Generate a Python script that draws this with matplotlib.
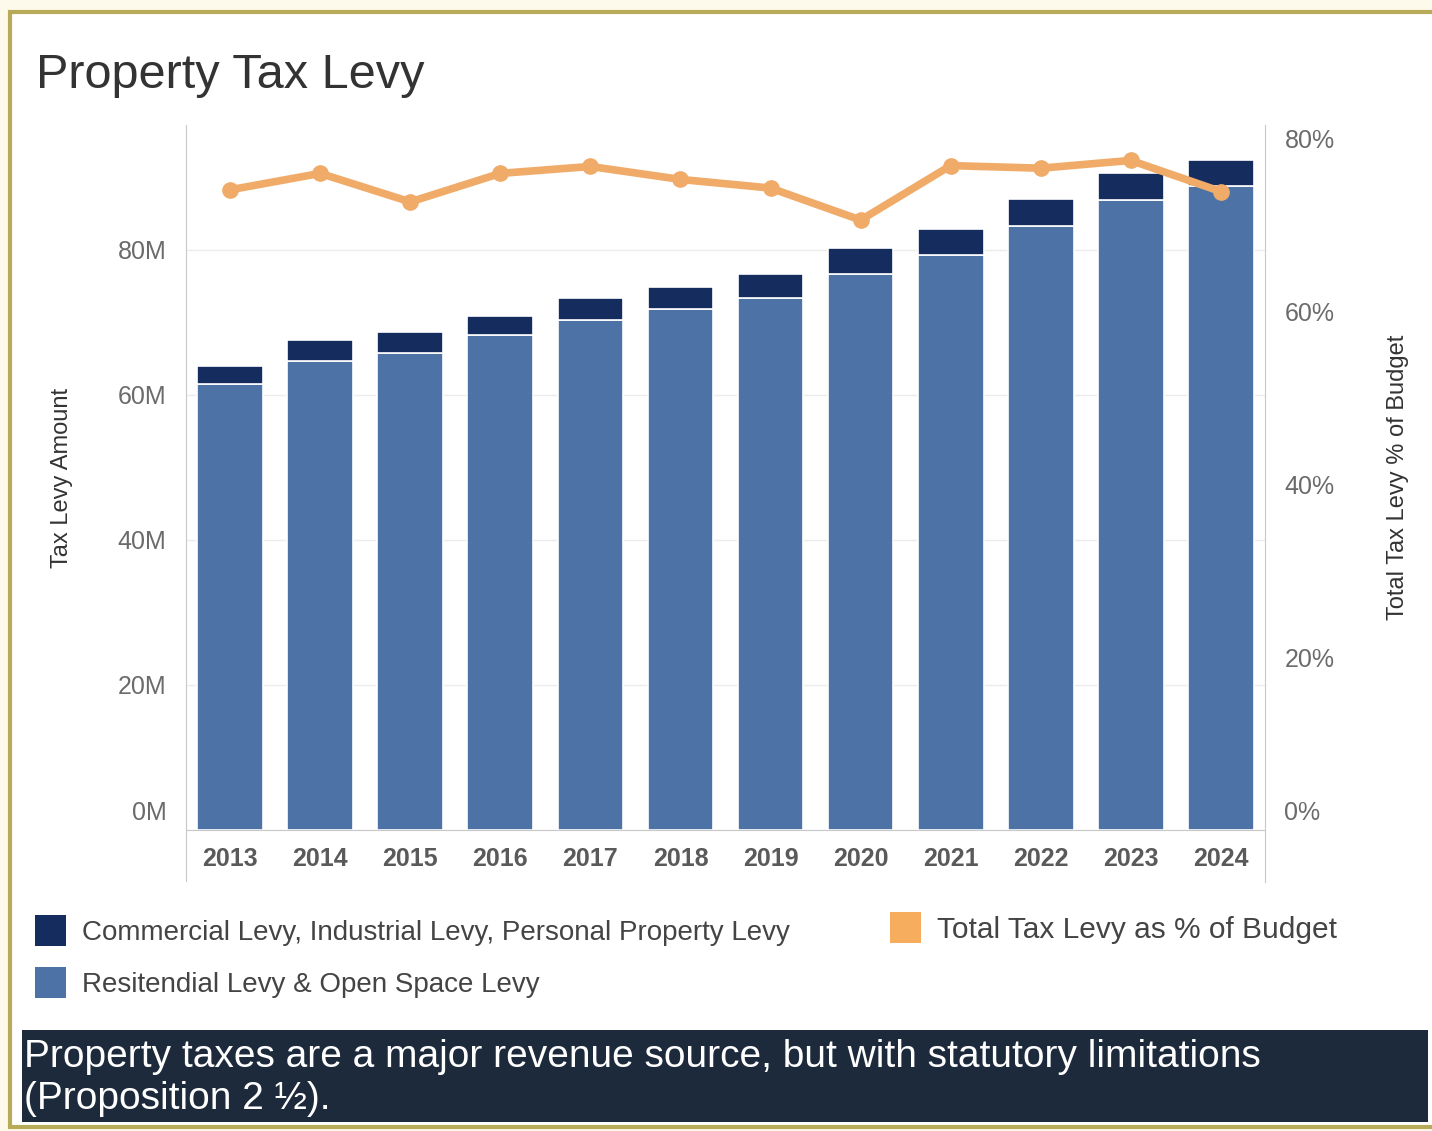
import matplotlib.pyplot as plt
import matplotlib.transforms as mtransforms
from matplotlib.patches import Rectangle

years = ["2013", "2014", "2015", "2016", "2017", "2018",
         "2019", "2020", "2021", "2022", "2023", "2024"]
# levy amounts in millions of dollars
residential = [61.5, 64.7, 65.7, 68.3, 70.3, 71.9, 73.4, 76.6, 79.3, 83.3, 86.9, 88.8]
commercial = [2.5, 2.9, 3.0, 2.6, 3.1, 2.9, 3.3, 3.7, 3.5, 3.7, 3.7, 3.6]
# total levy as share of budget, percent
pct_budget = [74.1, 76.0, 72.7, 76.0, 76.8, 75.3, 74.3, 70.6, 76.9, 76.6, 77.5, 73.9]

left_ticks = [0, 20, 40, 60, 80]
right_ticks = [0, 20, 40, 60, 80]

NAVY = "#152c5e"
BLUE = "#4d73a6"
ORANGE = "#f1ab68"
GRAY = "#6b6b6b"

plt.rcParams["font.family"] = ["Liberation Sans", "DejaVu Sans"]

W, H = 1432, 1131
fig = plt.figure(figsize=(W / 100, H / 100), dpi=100)
fig.patch.set_facecolor("#fdfaeb")

# framed panel, kept behind everything else
fig.patches.append(Rectangle((10 / W, 1 - 1127 / H), 1.2, (1127 - 12) / H,
                             transform=fig.transFigure, facecolor="white",
                             edgecolor="#b7ab5a", linewidth=3, zorder=-10))

ax = fig.add_axes([186 / W, 1 - 830 / H, (1265 - 186) / W, (830 - 125) / H])
x = list(range(len(years)))
ax.bar(x, residential, width=0.73, color=BLUE, edgecolor="white", linewidth=1.2, zorder=2)
ax.bar(x, commercial, width=0.73, bottom=residential, color=NAVY,
       edgecolor="white", linewidth=1.2, zorder=2)
ax.set_xlim(-0.49, len(years) - 0.51)
ax.set_ylim(0, 97.2)
ax.set_yticks(left_ticks)
ax.set_yticklabels([f"{v}M" for v in left_ticks])
ax.set_xticks(x)
ax.set_xticklabels(years)
ax.grid(axis="y", color="#ececec", linewidth=1, zorder=0)
ax.tick_params(axis="both", length=0, colors=GRAY, labelsize=18)
ax.tick_params(axis="y", pad=14)
ax.tick_params(axis="x", pad=12)
for lab in ax.get_xticklabels():
    lab.set_fontweight("bold")
    lab.set_color("#5a5a5a")
for side in ["top", "right"]:
    ax.spines[side].set_visible(False)
ax.spines["left"].set_color("#c8c8c8")
ax.spines["left"].set_bounds(-7, 97.2)
ax.spines["bottom"].set_color("#c8c8c8")
ax.set_ylabel("Tax Levy Amount", fontsize=17, color="#333333", labelpad=32)
ax.set_facecolor("none")

ax2 = ax.twinx()
ax2.plot(x, pct_budget, color=ORANGE, linewidth=5.5, marker="o",
         markersize=11, solid_capstyle="round", zorder=3)
ax2.set_ylim(0, 81.6)
ax2.set_yticks(right_ticks)
ax2.set_yticklabels([f"{v}%" for v in right_ticks])
ax2.tick_params(axis="y", length=0, colors=GRAY, labelsize=18, pad=14)
for side in ["top", "left", "bottom"]:
    ax2.spines[side].set_visible(False)
ax2.spines["right"].set_color("#c8c8c8")
ax2.spines["right"].set_bounds(-6, 81.6)
ax2.set_ylabel("Total Tax Levy % of Budget", fontsize=17, color="#333333", labelpad=38)

# lift the zero labels off the baseline
lift = mtransforms.ScaledTranslation(0, 0.19, fig.dpi_scale_trans)
for a in (ax, ax2):
    lab = a.get_yticklabels()[0]
    lab.set_transform(lab.get_transform() + lift)

fig.text(36 / W, 1 - 75 / H, "Property Tax Levy", fontsize=35, color="#333333", va="center")

# legend
legend_items = [
    ((35, 915), NAVY, "Commercial Levy, Industrial Levy, Personal Property Levy", 20),
    ((35, 967), BLUE, "Resitendial Levy & Open Space Levy", 20),
    ((890, 912), "#f6ad5e", "Total Tax Levy as % of Budget", 21.5),
]
for (px, py), col, txt, size in legend_items:
    fig.patches.append(Rectangle((px / W, 1 - (py + 31) / H), 31 / W, 31 / H,
                                 transform=fig.transFigure, facecolor=col, edgecolor="none"))
    fig.text((px + 47) / W, 1 - (py + 18) / H, txt, fontsize=size,
             color="#444444", va="center")

# footer note
fig.patches.append(Rectangle((22 / W, 1 - 1122 / H), (1428 - 22) / W, (1122 - 1030) / H,
                             transform=fig.transFigure, facecolor="#1c2a3b", edgecolor="none"))
fig.text(24 / W, 1 - 1078 / H,
         "Property taxes are a major revenue source, but with statutory limitations\n(Proposition 2 \u00bd).",
         fontsize=28, color="white", va="center", linespacing=1.22)

fig.savefig("out.png", dpi=100, facecolor=fig.get_facecolor())
